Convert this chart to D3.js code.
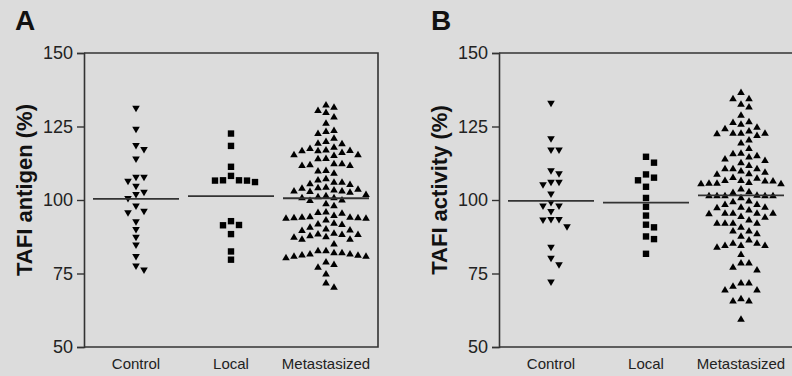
<!DOCTYPE html>
<html>
<head>
<meta charset="utf-8">
<script src="https://cdn.jsdelivr.net/npm/d3@7"></script>
<style>
  html, body { margin: 0; padding: 0; background: #dcdcdc; }
  svg { display: block; font-family: "Liberation Sans", Arial, sans-serif; }
</style>
</head>
<body>
<svg id="chart" width="792" height="376"></svg>
<script>
// ----- data -----
const categories = ["Control", "Local", "Metastasized"];
const yTicks = [50, 75, 100, 125, 150];

const antigenControl = [131.0, 123.9, 118.4, 117.0, 113.8, 107.6, 107.6, 106.2, 104.5, 102.5, 101.7,
  100.3, 97.8, 96.0, 95.5, 92.4, 89.8, 87.2, 84.5, 80.6, 77.4, 76.0];
const antigenLocal = [122.6, 118.4, 111.3, 108.2, 106.7, 106.7, 106.6, 106.6, 106.1, 92.8, 91.5, 91.4,
  88.4, 82.5, 79.7];
const antigenMetastasized = [132.5, 131.7, 130.6, 129.9, 128.4, 126.3, 123.8, 123.5, 122.8, 121.2,
  120.1, 119.5, 119.3, 118.1, 117.7, 117.2, 117.0, 116.9, 116.9, 116.3, 115.6, 115.6, 115.3, 114.3,
  114.2, 112.5, 112.5, 112.2, 111.9, 111.9, 110.2, 110.0, 109.3, 107.4, 107.0, 106.2, 106.2, 105.7,
  105.4, 104.5, 104.3, 104.2, 103.8, 103.6, 103.2, 103.2, 103.1, 102.8, 102.0, 101.6, 101.3, 100.9,
  100.9, 100.2, 100.0, 98.9, 98.2, 96.1, 95.9, 95.7, 94.9, 94.5, 94.3, 94.3, 94.1, 94.1, 94.0, 94.0,
  93.4, 92.3, 92.0, 91.8, 90.9, 90.3, 90.0, 89.8, 88.9, 88.6, 88.4, 88.4, 88.0, 87.7, 87.5, 86.8,
  86.8, 85.2, 82.9, 82.9, 82.2, 82.2, 81.8, 81.8, 81.5, 81.4, 81.0, 81.0, 80.5, 79.1, 78.2, 77.3,
  75.0, 71.9, 70.5];
const antigenMeans = [100.4, 101.3, 100.6];

const activityControl = [132.7, 120.7, 116.8, 116.8, 109.8, 108.8, 105.9, 105.9, 105.0, 101.9, 99.0,
  97.8, 97.8, 95.9, 93.2, 93.2, 93.0, 90.7, 83.8, 80.0, 77.8, 71.9];
const activityLocal = [114.7, 112.7, 108.7, 107.6, 106.7, 104.5, 100.7, 97.7, 94.7, 91.6, 90.7, 87.6,
  86.7, 81.7];
const activityMetastasized = [136.7, 134.6, 134.6, 132.7, 131.8, 129.0, 126.8, 126.5, 125.9, 124.9,
  124.4, 123.6, 122.9, 122.9, 122.9, 122.7, 122.1, 120.6, 119.6, 117.7, 116.1, 115.9, 115.2, 114.8,
  114.1, 113.6, 112.8, 111.9, 110.8, 110.8, 110.8, 110.0, 109.6, 109.1, 108.9, 107.8, 107.6, 106.8,
  106.8, 106.6, 106.6, 106.1, 105.9, 105.9, 105.7, 105.7, 103.9, 103.0, 102.7, 101.8, 101.6, 101.6,
  101.6, 101.6, 101.6, 100.9, 99.8, 99.6, 98.6, 98.6, 97.7, 97.7, 97.5, 96.8, 95.7, 95.7, 95.7, 95.7,
  95.5, 94.6, 94.3, 93.4, 92.3, 92.3, 92.3, 92.3, 90.9, 89.6, 89.6, 88.7, 87.8, 86.6, 85.5, 85.5,
  84.7, 84.7, 84.7, 84.1, 81.6, 78.7, 78.7, 77.3, 76.4, 71.9, 71.9, 70.8, 69.6, 69.6, 66.6, 65.8,
  65.8, 59.6];
const activityMeans = [99.7, 99.1, 101.6];

// ----- layout -----
const svg = d3.select("#chart");
const plotTop = 53, plotBottom = 347, plotW = 294;
const INK = "#222";

const shapes = {
  Control: "M-3.8,-3L3.8,-3L0,3.5Z",       // down triangle
  Local: "M-3.2,-3.2H3.2V3.2H-3.2Z",       // square
  Metastasized: "M0,-3.5L3.8,3L-3.8,3Z"    // up triangle
};

// prism-like scatter: spread points sideways in 8px columns so they don't overlap
function swarm(values, cx, y, step = 8, gap = 7.5) {
  const cols = new Map();
  return values.map(v => {
    const py = y(v);
    for (let i = 0; ; i++) {
      const k = i === 0 ? 0 : (i % 2 ? Math.ceil(i / 2) : -i / 2);
      const col = cols.get(k) || [];
      if (col.every(q => Math.abs(q - py) >= gap)) {
        col.push(py);
        cols.set(k, col);
        return { v, x: cx + k * step, y: py };
      }
    }
  });
}

function drawPanel(opt) {
  const ax = opt.axisX;
  const y = d3.scaleLinear().domain([50, 150]).range([plotBottom, plotTop]);
  const x = d3.scalePoint().domain(categories).range([ax + 52, ax + 242]);

  const g = svg.append("g");

  // panel letter
  g.append("text")
    .attr("x", opt.letterX).attr("y", 30)
    .attr("font-size", 28).attr("font-weight", "bold")
    .attr("fill", "#111")
    .text(opt.letter);

  // frame (top / right / bottom)
  g.append("path")
    .attr("d", `M${ax},${plotTop}H${ax + plotW}V${plotBottom}H${ax}`)
    .attr("fill", "none").attr("stroke", "#333").attr("stroke-width", 1.6);

  // y axis
  const yAxis = g.append("g")
    .attr("transform", `translate(${ax},0)`)
    .call(d3.axisLeft(y).tickValues(yTicks).tickSize(7).tickPadding(4).tickFormat(d3.format("d")));
  yAxis.select(".domain").attr("stroke", "#333").attr("stroke-width", 1.6);
  yAxis.selectAll(".tick line").attr("stroke", "#333").attr("stroke-width", 1.4);
  yAxis.selectAll(".tick text")
    .attr("font-size", 18).attr("fill", INK)
    .attr("font-family", "Liberation Sans, Arial, sans-serif");

  // y axis title
  g.append("text")
    .attr("transform", `translate(${ax - 52},${(plotTop + plotBottom) / 2 - 10}) rotate(-90)`)
    .attr("text-anchor", "middle")
    .attr("font-size", 22).attr("font-weight", "bold")
    .attr("fill", "#111")
    .text(opt.title);

  // category labels
  g.selectAll(".cat")
    .data(categories)
    .join("text")
    .attr("x", d => x(d)).attr("y", 369)
    .attr("text-anchor", "middle")
    .attr("font-size", 15).attr("fill", INK)
    .text(d => d);

  // points
  opt.groups.forEach((vals, i) => {
    const cat = categories[i];
    const pts = swarm(vals, x(cat), y);
    g.append("g").selectAll("path")
      .data(pts)
      .join("path")
      .attr("transform", d => `translate(${d.x},${d.y})`)
      .attr("d", shapes[cat])
      .attr("fill", "#000");
  });

  // mean lines
  g.selectAll(".mean")
    .data(opt.means)
    .join("line")
    .attr("x1", (d, i) => x(categories[i]) - 43)
    .attr("x2", (d, i) => x(categories[i]) + 43)
    .attr("y1", d => y(d)).attr("y2", d => y(d))
    .attr("stroke", "#333").attr("stroke-width", 1.8);
}

drawPanel({
  letter: "A", letterX: 15, axisX: 84, title: "TAFI antigen (%)",
  groups: [antigenControl, antigenLocal, antigenMetastasized], means: antigenMeans
});
drawPanel({
  letter: "B", letterX: 431, axisX: 499, title: "TAFI activity (%)",
  groups: [activityControl, activityLocal, activityMetastasized], means: activityMeans
});
</script>
</body>
</html>
